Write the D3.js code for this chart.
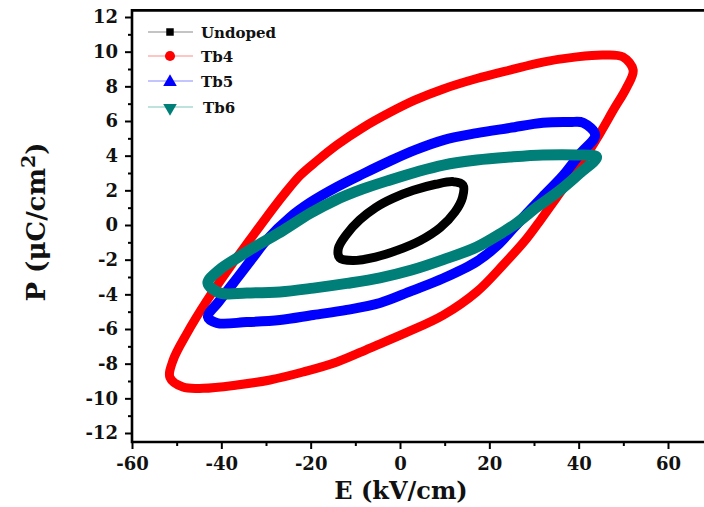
<!DOCTYPE html>
<html>
<head>
<meta charset="utf-8">
<script src="https://cdn.jsdelivr.net/npm/d3@7"></script>
<style>
  html, body { margin: 0; padding: 0; background: #ffffff; }
  svg { display: block; }
  text { font-family: "DejaVu Serif", "Liberation Serif", serif; font-weight: bold; fill: #111; }
</style>
</head>
<body>
<svg id="chart" width="704" height="507"></svg>
<script>
// P–E hysteresis loops, each traced as closed [E (kV/cm), P (µC/cm²)] paths
const seriesNames = ["Undoped", "Tb4", "Tb5", "Tb6"];

const loopTb4 = [
  [52.2, 8.94], [49.9, 9.7], [45.5, 9.81], [39.6, 9.7], [32, 9.4], [24.6, 8.94],
  [17.2, 8.45], [9.7, 7.85], [3.3, 7.2], [-2.2, 6.5], [-8.3, 5.62], [-14.1, 4.62],
  [-18.6, 3.7], [-22.4, 2.85], [-26.1, 1.72], [-29.8, 0.48], [-33.6, -0.85],
  [-38, -2.4], [-43.2, -4.35], [-47.7, -6.25], [-50.8, -7.8], [-51.5, -8.8],
  [-48.6, -9.35], [-44, -9.42], [-36.5, -9.23], [-29.1, -8.94], [-21.7, -8.48],
  [-14.1, -7.9], [-6.7, -7.1], [1.5, -6.2], [9.7, -5.2], [17.2, -3.85],
  [23.1, -2.3], [28.4, -0.77], [31.5, 0.3], [35.1, 1.6], [40.3, 3.45],
  [44.8, 5.3], [47.7, 6.6], [50.8, 7.96]
];

const loopTb5 = [
  [43.7, 5.19], [41, 5.9], [38, 5.94], [32, 5.9], [24.6, 5.6], [17.2, 5.3],
  [9.7, 4.9], [3.3, 4.32], [-2.2, 3.7], [-8.3, 2.95], [-14.1, 2.2], [-20.1, 1.3],
  [-24.6, 0.45], [-29.8, -0.85], [-33, -1.9], [-37, -3.25], [-40.5, -4.4],
  [-43, -5.3], [-41, -5.65], [-34.3, -5.6], [-26.9, -5.48], [-19.4, -5.19],
  [-11.9, -4.9], [-4.5, -4.5], [2.6, -3.8], [9.7, -3.07], [17.2, -2.1],
  [21.5, -1.25], [25.5, -0.15], [28.5, 0.7], [32, 1.65], [36.5, 2.85], [40.3, 4.1]
];

const loopTb6 = [
  [44, 3.92], [39.6, 4.04], [32, 4.04], [24.6, 3.92], [17.2, 3.75], [9.7, 3.46],
  [3.3, 3.03], [-2.2, 2.6], [-8.3, 2.08], [-14.6, 1.42], [-20.1, 0.68],
  [-26.1, -0.3], [-32.1, -1.2], [-36.6, -1.92], [-40.5, -2.6], [-43, -3.35],
  [-40.3, -3.92], [-34.3, -3.92], [-26.9, -3.86], [-19.4, -3.64], [-11.9, -3.37],
  [-4.5, -3.05], [2.6, -2.6], [9.7, -2.0], [17.2, -1.27], [23.1, -0.4],
  [26.1, 0.1], [30.7, 1.04], [35.8, 2.0], [40.3, 3.0]
];

const loopUndoped = [
  [14.1, 2.3], [12, 2.5], [8, 2.35], [3, 2.0], [-1.5, 1.55], [-5.5, 1.0],
  [-9, 0.3], [-12, -0.55], [-13.8, -1.35], [-13.5, -1.9], [-10.5, -2.05],
  [-5.5, -1.85], [-0.5, -1.45], [4.5, -0.9], [9, -0.15], [12.3, 0.75], [14, 1.6]
];

const xMajorTicks = [-60, -40, -20, 0, 20, 40, 60];
const xMinorTicks = [-50, -30, -10, 10, 30, 50, 70];
const yMajorTicks = [-12, -10, -8, -6, -4, -2, 0, 2, 4, 6, 8, 10, 12];
const yMinorTicks = [-11, -9, -7, -5, -3, -1, 1, 3, 5, 7, 9, 11];

const svg = d3.select("#chart");

const x = d3.scaleLinear().domain([-60, 60]).range([132, 668]);
const y = d3.scaleLinear().domain([-12, 12]).range([433, 17]);

const frameLeft = x(-60), frameRight = x(70);
const frameTop = y(12.38), frameBottom = y(-12.52);

const series = [
  { name: "Tb4", data: loopTb4, color: "#ff0000", legendLine: "#ffb0b0", width: 9, symbol: d3.symbolCircle },
  { name: "Tb5", data: loopTb5, color: "#0000ff", legendLine: "#b0b0ff", width: 10, symbol: d3.symbolTriangle },
  { name: "Tb6", data: loopTb6, color: "#007f78", legendLine: "#a8d8d2", width: 11, symbol: "down" },
  { name: "Undoped", data: loopUndoped, color: "#000000", legendLine: "#b0b0b0", width: 9, symbol: d3.symbolSquare }
];

// Loops
const line = d3.line()
  .x(d => x(d[0]))
  .y(d => y(d[1]))
  .curve(d3.curveCatmullRomClosed.alpha(0.5));

svg.append("clipPath").attr("id", "plotClip")
  .append("rect")
  .attr("x", frameLeft).attr("y", frameTop)
  .attr("width", frameRight - frameLeft).attr("height", frameBottom - frameTop);

svg.append("g").attr("clip-path", "url(#plotClip)")
  .selectAll("path.loop")
  .data(series)
  .join("path")
  .attr("class", "loop")
  .attr("d", d => line(d.data))
  .attr("fill", "none")
  .attr("stroke", d => d.color)
  .attr("stroke-width", d => d.width)
  .attr("stroke-linejoin", "round");

// Frame: left, bottom and top edges
svg.append("path")
  .attr("d", `M${frameRight},${frameTop}H${frameLeft}V${frameBottom}H${frameRight}`)
  .attr("fill", "none")
  .attr("stroke", "#000")
  .attr("stroke-width", 2.6);

// Axes
const fmt = d => String(d);

const xAxis = svg.append("g")
  .attr("transform", `translate(0,${frameBottom})`)
  .call(d3.axisBottom(x).tickValues(xMajorTicks).tickSize(7).tickPadding(8).tickFormat(fmt));
const xMinor = svg.append("g")
  .attr("transform", `translate(0,${frameBottom})`)
  .call(d3.axisBottom(x).tickValues(xMinorTicks).tickSize(4).tickFormat(""));

const yAxis = svg.append("g")
  .attr("transform", `translate(${frameLeft},0)`)
  .call(d3.axisLeft(y).tickValues(yMajorTicks).tickSize(7).tickPadding(7).tickFormat(fmt));
const yMinor = svg.append("g")
  .attr("transform", `translate(${frameLeft},0)`)
  .call(d3.axisLeft(y).tickValues(yMinorTicks).tickSize(4).tickFormat(""));

[xAxis, xMinor, yAxis, yMinor].forEach(g => {
  g.select(".domain").remove();
  g.selectAll(".tick line").attr("stroke", "#000").attr("stroke-width", 2);
  g.selectAll(".tick text")
    .attr("fill", "#111")
    .style("font-family", '"DejaVu Serif", serif')
    .style("font-weight", "bold")
    .style("font-size", "18px");
});

// Axis titles
svg.append("text")
  .attr("x", 401).attr("y", 499)
  .attr("text-anchor", "middle")
  .style("font-size", "24px")
  .text("E (kV/cm)");

const yTitle = svg.append("text")
  .attr("transform", "translate(45,222) rotate(-90)")
  .attr("text-anchor", "middle")
  .style("font-size", "26px");
yTitle.append("tspan").text("P (μC/cm");
yTitle.append("tspan").attr("dy", -10).style("font-size", "19px").text("2");
yTitle.append("tspan").attr("dy", 10).text(")");

// Legend
const legendOrder = ["Undoped", "Tb4", "Tb5", "Tb6"];
const legendRows = [32, 56, 81, 107];
const legend = svg.append("g");
legendOrder.forEach((name, i) => {
  const s = series.find(d => d.name === name);
  const cy = legendRows[i];
  legend.append("line")
    .attr("x1", 148).attr("x2", 193).attr("y1", cy).attr("y2", cy)
    .attr("stroke", s.legendLine).attr("stroke-width", 1.6);
  let sym;
  if (s.symbol === "down") {
    sym = legend.append("path")
      .attr("d", d3.symbol(d3.symbolTriangle, 80)())
      .attr("transform", `translate(170,${cy + 1}) rotate(180)`);
  } else {
    const size = s.symbol === d3.symbolSquare ? 56 : 80;
    sym = legend.append("path")
      .attr("d", d3.symbol(s.symbol, size)())
      .attr("transform", `translate(170,${cy + (s.symbol === d3.symbolTriangle ? 1 : 0)})`);
  }
  sym.attr("fill", s.color);
  legend.append("text")
    .attr("x", name === "Tb6" ? 203 : 201)
    .attr("y", cy + 5.5)
    .style("font-size", "15px")
    .text(name);
});
</script>
</body>
</html>
